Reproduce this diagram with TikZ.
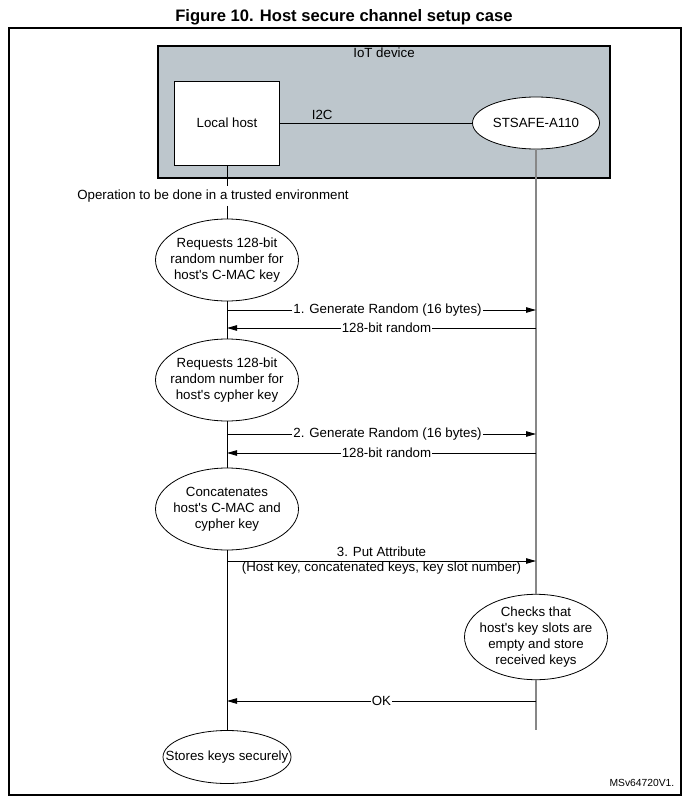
\documentclass[tikz,border=0pt]{standalone}
\usepackage{fontspec}
\setmainfont{Liberation Sans}
\usetikzlibrary{shapes.geometric, arrows.meta, positioning}
\definecolor{iotgray}{RGB}{189,198,204}
\definecolor{lifegray}{RGB}{135,135,135}

\begin{document}
\begin{tikzpicture}[x=1pt, y=-1pt, line width=0.8pt,
  every node/.style={font=\fontsize{13.3}{16}\selectfont},
  task/.style={ellipse, draw, fill=white, align=center, inner xsep=-10pt, inner ysep=0pt, minimum width=143pt, minimum height=82pt},
  msg/.style={-{Triangle[length=10pt,width=5.5pt]}},
  msglabel/.style={fill=white, inner sep=1pt},
  life/.style={draw=lifegray, line width=1.5pt}]
\useasboundingbox (0,0) rectangle (688,805);
\node[font=\fontsize{16.6}{20}\selectfont\bfseries] (title) at (344,17) {Figure 10. Host secure channel setup case};
\draw[line width=1.2pt] (9,28) rectangle (681,795);
\node[draw, line width=1.6pt, fill=iotgray, minimum width=452pt, minimum height=132pt, inner sep=0pt] (iot) at (384,112) {};
\node (iotlabel) at (384,53) {IoT device};
\node[draw, fill=white, minimum width=105pt, minimum height=84pt] (host) at (227,123) {Local host};
\node[ellipse, draw, fill=white, minimum width=127pt, minimum height=52pt, inner sep=0pt] (stsafe) at (536,123) {STSAFE-A110};
\draw (host) -- node[above, pos=0.22] {I2C} (stsafe);
\node (trusted) at (213,196) {Operation to be done in a trusted environment};

\node[task] (e1) at (227,260) {Requests 128-bit\\random number for\\host\textquotesingle s C-MAC key};
\node[task] (e2) at (227,380) {Requests 128-bit\\random number for\\host\textquotesingle s cypher key};
\node[task] (e3) at (227,509) {Concatenates\\host\textquotesingle s C-MAC and\\cypher key};
\node[task, minimum height=76pt] (e4) at (536,637) {Checks that\\host\textquotesingle s key slots are\\empty and store\\received keys};
\node[task, inner xsep=-18pt, inner ysep=2pt, minimum width=128pt, minimum height=53pt] (e5) at (227,757) {Stores keys securely};
\node[anchor=east, font=\fontsize{10.3}{12}\selectfont] (ref) at (678,783) {MSv64720V1.};

% lifelines
\draw (host) -- (host |- trusted.north);
\draw (host |- trusted.south) -- (e1);
\draw (e1) -- (e2);
\draw (e2) -- (e3);
\draw (e3) -- (e5);
\coordinate (devend) at (536,730);
\draw[life] (stsafe) -- (e4);
\draw[life] (e4) -- (devend);

\foreach \n/\y in {1/310, 2/328, 3/434, 4/453, 5/561, 6/701} {
  \coordinate (h\n) at (227,\y);
  \coordinate (d\n) at (536,\y);
}
\draw[msg] (h1) -- node[msglabel, xshift=6pt] {1. Generate Random (16 bytes)} (d1);
\draw[msg] (d2) -- node[msglabel, xshift=5pt] {128-bit random} (h2);
\draw[msg] (h3) -- node[msglabel, xshift=6pt] {2. Generate Random (16 bytes)} (d3);
\draw[msg] (d4) -- node[msglabel, xshift=5pt] {128-bit random} (h4);
\draw[msg] (h5) -- node[msglabel, inner xsep=12pt, inner ysep=3.5pt, yshift=9pt] {3. Put Attribute}
  node[inner sep=0pt, yshift=-7pt] {(Host key, concatenated keys, key slot number)} (d5);
\draw[msg] (d6) -- node[msglabel] {OK} (h6);
\end{tikzpicture}
\end{document}
